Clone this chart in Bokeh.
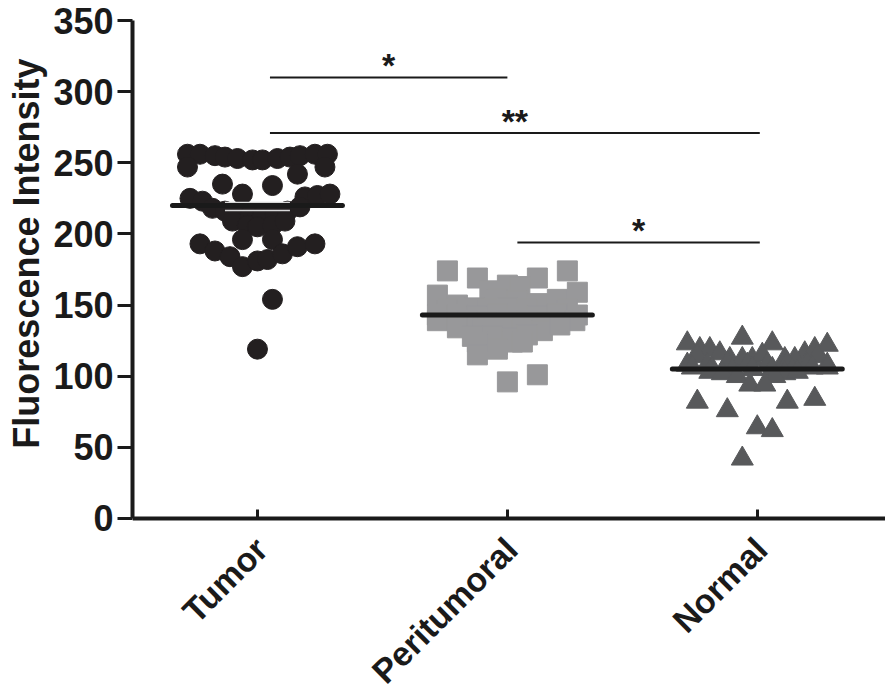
import math
from bokeh.plotting import figure
from bokeh.models import FixedTicker, Range1d, ColumnDataSource, Title
from bokeh.core.properties import value
from bokeh.embed import file_html
from bokeh.resources import INLINE

# ---------------- data ----------------
categories = ["Tumor", "Peritumoral", "Normal"]
positions = [1, 2, 3]
y_ticks = [0, 50, 100, 150, 200, 250, 300, 350]
y_title = "Fluorescence Intensity"

tumor_values = [256, 256, 255, 254, 253, 252, 252, 253, 254, 255, 256, 256,
                247, 247, 242, 235, 234,
                225, 223, 228, 226, 227, 228,
                218, 216, 214, 213, 213, 214, 216, 219, 209, 206, 205, 206, 209,
                196, 196,
                193, 188, 184, 177, 181, 182, 186, 191, 193,
                154, 119]
tumor_spread = [-0.28, -0.23, -0.17, -0.13, -0.08, -0.02, 0.02, 0.08, 0.13, 0.17, 0.23, 0.28,
                -0.28, 0.27, 0.16, -0.14, 0.06,
                -0.27, -0.22, -0.06, 0.19, 0.24, 0.29,
                -0.18, -0.13, -0.08, -0.03, 0.02, 0.07, 0.12, 0.17, -0.10, -0.04, 0.00, 0.06, 0.11,
                -0.06, 0.06,
                -0.23, -0.17, -0.11, -0.06, 0.00, 0.04, 0.10, 0.16, 0.23,
                0.06, 0.00]

peri_values = [174, 169, 169, 174,
               164, 163, 160,
               157, 159, 150, 148, 154,
               154, 153, 151,
               147, 147, 148, 147, 147,
               143, 143, 142, 144, 143, 142, 144, 143,
               139, 139, 138, 139, 139, 138, 139,
               134, 133, 134, 133, 132, 136,
               128, 128, 127, 129,
               124, 122, 124, 124,
               115, 119,
               96, 101]
peri_spread = [-0.24, -0.12, 0.12, 0.24,
               0.00, 0.05, -0.07,
               -0.28, 0.28, -0.20, -0.13, 0.20,
               -0.04, 0.04, 0.12,
               -0.24, -0.08, 0.00, 0.08, 0.24,
               -0.28, -0.20, -0.12, -0.04, 0.04, 0.12, 0.20, 0.28,
               -0.28, -0.16, -0.08, 0.00, 0.08, 0.16, 0.27,
               -0.20, -0.10, -0.02, 0.06, 0.14, 0.21,
               -0.14, -0.06, 0.02, 0.08,
               -0.12, -0.04, 0.02, 0.06,
               -0.12, -0.04,
               0.00, 0.12]

normal_values = [123, 119, 119, 116, 127, 123, 116, 119, 122,
                 112, 112, 112, 112, 112,
                 114, 114, 115,
                 108, 108, 109, 108, 108, 109, 108, 108,
                 106, 105, 104, 105, 105, 104, 106, 106,
                 103, 102, 102, 103,
                 100, 100,
                 94, 94,
                 82, 76, 64, 62, 42, 82, 84]
normal_spread = [-0.28, -0.23, -0.19, -0.15, -0.06, 0.06, 0.19, 0.23, 0.28,
                 -0.11, -0.06, -0.02, 0.11, 0.15,
                 -0.24, 0.24, 0.02,
                 -0.28, -0.20, -0.12, -0.04, 0.04, 0.12, 0.20, 0.28,
                 -0.26, -0.18, -0.10, -0.02, 0.06, 0.14, 0.22, 0.28,
                 -0.19, -0.14, 0.11, 0.16,
                 -0.08, 0.07,
                 -0.03, 0.03,
                 -0.24, -0.12, 0.00, 0.06, -0.06, 0.12, 0.23]

group_means = [220, 143, 105]
tumor_sem_caps = [216.5, 222.0]

# comparisons: (x start, x end, label, height)
comp_x0 = [1.05, 1.05, 2.04]
comp_x1 = [2.00, 3.01, 3.01]
comp_labels = ["*", "**", "*"]
comp_y = [310, 271, 194]

# ---------------- figure ----------------
FONT = "Liberation Sans"
INK = "#1a1a1a"
# the plot frame reaches down to the page bottom so that the slanted category
# names (drawn below y = 0) stay inside it; the axes are bounded to 0..350
p = figure(width=885, height=684, output_backend="svg", toolbar_location=None,
           x_range=Range1d(0.5, 3.513), y_range=Range1d(-116.7, 350),
           min_border_left=127, min_border_right=0, min_border_top=20,
           min_border_bottom=0)
p.outline_line_color = None
p.grid.visible = False
p.background_fill_color = "white"
p.border_fill_color = "white"

def shifted(pos, spread):
    return [pos + s for s in spread]

p.scatter(shifted(positions[0], tumor_spread), tumor_values, marker="circle",
          size=20, fill_color="#231f20", line_color="#231f20")
p.scatter(shifted(positions[1], peri_spread), peri_values, marker="square",
          size=20, fill_color="#98989a", line_color="#98989a")
p.scatter(shifted(positions[2], normal_spread), normal_values, marker="triangle",
          size=22, fill_color="#58595b", line_color="#58595b")

# SEM caps for tumor (light)
p.segment(x0=[positions[0] - 0.13] * 2, x1=[positions[0] + 0.13] * 2,
          y0=tumor_sem_caps, y1=tumor_sem_caps, line_color="#d8d8d8", line_width=1.5)

# mean lines
p.segment(x0=[x - 0.34 for x in positions], x1=[x + 0.34 for x in positions],
          y0=group_means, y1=group_means, line_color=INK, line_width=5,
          line_cap="round")

# comparison bars
p.segment(x0=comp_x0, x1=comp_x1, y0=comp_y, y1=comp_y, line_color=INK,
          line_width=2)
src = ColumnDataSource(dict(x=[(a + b) / 2 for a, b in zip(comp_x0, comp_x1)],
                            y=comp_y, t=comp_labels))
p.text(x="x", y="y", text="t", source=src, text_align="center",
       text_baseline="alphabetic", text_font=value(FONT), text_font_style="bold",
       text_font_size="34px", text_color=INK, y_offset=-12)

# category names, rotated 45 degrees, ending just below each tick
cat_src = ColumnDataSource(dict(x=positions, y=[0] * len(positions), t=categories))
p.text(x="x", y="y", text="t", source=cat_src, angle=math.pi / 4,
       text_align="right", text_baseline="middle", x_offset=4, y_offset=25,
       text_font=value(FONT), text_font_style="bold", text_font_size="34px",
       text_color=INK)

# axes
for ax in (p.xaxis[0], p.yaxis[0]):
    ax.axis_line_width = 4
    ax.axis_line_color = INK
    ax.major_tick_line_width = 3
    ax.major_tick_line_color = INK
    ax.minor_tick_line_color = None
    ax.major_label_text_font = FONT
    ax.major_label_text_font_style = "bold"
    ax.major_label_text_color = INK

p.yaxis.ticker = FixedTicker(ticks=y_ticks)
p.yaxis.bounds = (0, 350)
p.yaxis.major_tick_out = 15
p.yaxis.major_tick_in = 0
p.yaxis.major_label_text_font_size = "36px"
p.yaxis.major_label_standoff = 4
p.yaxis.axis_label = None

# y title, placed along the 0..350 span (end of text near the top of the axis)
p.add_layout(Title(text=y_title, align="right", offset=38, standoff=7,
                   text_font=FONT, text_font_style="bold", text_font_size="36px",
                   text_color=INK), "left")

p.xaxis.ticker = FixedTicker(ticks=positions)
p.xaxis.fixed_location = 0
p.xaxis.major_label_overrides = {pos: "" for pos in positions}
p.xaxis.major_label_text_font_size = "0px"
p.xaxis.major_label_standoff = 0
p.xaxis.major_tick_out = 0
p.xaxis.major_tick_in = 9

open("out.html", "w").write(file_html(p, INLINE))
